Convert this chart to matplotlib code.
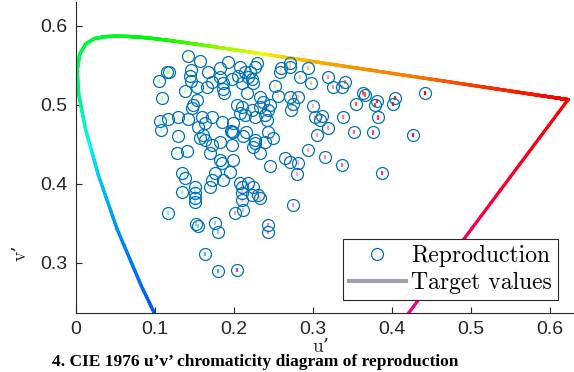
import numpy as np
import matplotlib
matplotlib.use("Agg")
import matplotlib.pyplot as plt
from matplotlib.collections import LineCollection
from matplotlib.colors import hsv_to_rgb
from matplotlib.lines import Line2D

# CIE 1931 2-degree spectral locus (x, y chromaticity)
locus_wl = [380, 390, 400, 410, 420, 430, 440, 450, 460, 465, 470, 475, 480, 485,
            490, 495, 500, 505, 510, 515, 520, 525, 530, 535, 540, 545, 550, 555,
            560, 565, 570, 575, 580, 585, 590, 595, 600, 605, 610, 615, 620, 625,
            630, 635, 640, 645, 650, 655, 660, 665, 670, 675, 680, 690, 700]
locus_x = [0.1741, 0.1738, 0.1733, 0.1726, 0.1714, 0.1689, 0.1644, 0.1566, 0.1440, 0.1355,
           0.1241, 0.1096, 0.0913, 0.0687, 0.0454, 0.0235, 0.0082, 0.0039, 0.0139, 0.0389,
           0.0743, 0.1142, 0.1547, 0.1929, 0.2296, 0.2658, 0.3016, 0.3373, 0.3731, 0.4087,
           0.4441, 0.4788, 0.5125, 0.5448, 0.5752, 0.6029, 0.6270, 0.6482, 0.6658, 0.6801,
           0.6915, 0.7006, 0.7079, 0.7140, 0.7190, 0.7230, 0.7260, 0.7283, 0.7300, 0.7311,
           0.7320, 0.7327, 0.7334, 0.7344, 0.7347]
locus_y = [0.0050, 0.0049, 0.0048, 0.0048, 0.0051, 0.0069, 0.0109, 0.0177, 0.0297, 0.0399,
           0.0578, 0.0868, 0.1327, 0.2007, 0.2950, 0.4127, 0.5384, 0.6548, 0.7502, 0.8120,
           0.8338, 0.8262, 0.8059, 0.7816, 0.7543, 0.7243, 0.6923, 0.6589, 0.6245, 0.5896,
           0.5547, 0.5202, 0.4866, 0.4544, 0.4242, 0.3965, 0.3725, 0.3514, 0.3340, 0.3197,
           0.3083, 0.2993, 0.2920, 0.2859, 0.2809, 0.2770, 0.2740, 0.2717, 0.2700, 0.2689,
           0.2680, 0.2673, 0.2666, 0.2656, 0.2653]

# Reproduction results (u', v')
rep_u = [0.142, 0.157, 0.115, 0.118, 0.105, 0.109, 0.138, 0.146, 0.144, 0.146,
         0.167, 0.182, 0.193, 0.208, 0.214, 0.229, 0.227, 0.221, 0.153, 0.166,
         0.172, 0.182, 0.186, 0.186, 0.188, 0.198, 0.205, 0.210, 0.153, 0.148,
         0.147, 0.204, 0.210, 0.208, 0.214, 0.160, 0.172, 0.185, 0.129, 0.117,
         0.106, 0.142, 0.199, 0.108, 0.217, 0.218, 0.223, 0.224, 0.260, 0.259,
         0.271, 0.271, 0.294, 0.284, 0.298, 0.319, 0.326, 0.337, 0.341, 0.252,
         0.256, 0.233, 0.237, 0.246, 0.243, 0.233, 0.223, 0.227, 0.239, 0.242,
         0.271, 0.281, 0.275, 0.272, 0.300, 0.312, 0.303, 0.338, 0.364, 0.366,
         0.355, 0.381, 0.379, 0.404, 0.402, 0.383, 0.442, 0.129, 0.128, 0.141,
         0.155, 0.161, 0.163, 0.157, 0.172, 0.182, 0.196, 0.198, 0.199, 0.198,
         0.212, 0.170, 0.182, 0.185, 0.199, 0.176, 0.195, 0.172, 0.186, 0.170,
         0.134, 0.138, 0.151, 0.134, 0.151, 0.151, 0.208, 0.210, 0.210, 0.163,
         0.215, 0.227, 0.224, 0.227, 0.233, 0.240, 0.243, 0.250, 0.305, 0.319,
         0.309, 0.294, 0.316, 0.337, 0.265, 0.271, 0.281, 0.246, 0.280, 0.218,
         0.224, 0.223, 0.231, 0.233, 0.275, 0.352, 0.376, 0.427, 0.388, 0.117,
         0.152, 0.154, 0.151, 0.176, 0.180, 0.163, 0.180, 0.204, 0.201, 0.212,
         0.210, 0.243, 0.243]
rep_v = [0.562, 0.556, 0.541, 0.542, 0.530, 0.508, 0.518, 0.544, 0.537, 0.530,
         0.542, 0.547, 0.554, 0.548, 0.541, 0.553, 0.548, 0.542, 0.523, 0.522,
         0.529, 0.535, 0.528, 0.520, 0.515, 0.532, 0.536, 0.528, 0.506, 0.500,
         0.496, 0.500, 0.497, 0.490, 0.487, 0.485, 0.484, 0.478, 0.485, 0.482,
         0.479, 0.482, 0.477, 0.468, 0.515, 0.535, 0.532, 0.528, 0.547, 0.541,
         0.553, 0.548, 0.547, 0.535, 0.528, 0.535, 0.522, 0.522, 0.529, 0.524,
         0.511, 0.510, 0.504, 0.500, 0.494, 0.497, 0.494, 0.485, 0.487, 0.481,
         0.510, 0.510, 0.501, 0.494, 0.499, 0.486, 0.484, 0.485, 0.515, 0.513,
         0.501, 0.505, 0.500, 0.509, 0.501, 0.484, 0.515, 0.460, 0.439, 0.441,
         0.472, 0.462, 0.456, 0.458, 0.449, 0.453, 0.467, 0.466, 0.465, 0.449,
         0.460, 0.439, 0.430, 0.427, 0.430, 0.414, 0.415, 0.405, 0.405, 0.396,
         0.414, 0.408, 0.396, 0.390, 0.389, 0.382, 0.401, 0.396, 0.389, 0.477,
         0.466, 0.456, 0.447, 0.452, 0.439, 0.453, 0.465, 0.458, 0.462, 0.471,
         0.481, 0.443, 0.434, 0.424, 0.433, 0.428, 0.427, 0.423, 0.413, 0.401,
         0.396, 0.386, 0.386, 0.382, 0.373, 0.466, 0.465, 0.462, 0.414, 0.363,
         0.349, 0.347, 0.377, 0.351, 0.339, 0.311, 0.290, 0.291, 0.363, 0.367,
         0.380, 0.348, 0.339]

white_u, white_v = 0.1978, 0.4683
xticks = [0, 0.1, 0.2, 0.3, 0.4, 0.5, 0.6]
yticks = [0.3, 0.4, 0.5, 0.6]
labels = ["Reproduction", "Target values"]
caption = "4. CIE 1976 u\u2019v\u2019 chromaticity diagram of reproduction"

SERIF = ["cmr10", "DejaVu Serif"]

# ---------------------------------------------------------------
def xy_to_uv(x, y):
    x = np.asarray(x, float)
    y = np.asarray(y, float)
    d = -2 * x + 12 * y + 3
    return 4 * x / d, 9 * y / d

anchor_ang = [-90, -40, -10, 5, 16, 60, 100, 130, 165, 190, 220, 250, 270]
anchor_hue = [-60, -30, -10, 0, 30, 55, 85, 120, 150, 185, 205, 220, 230]

def hue_of(u, v):
    ang = np.degrees(np.arctan2(np.asarray(v) - white_v, np.asarray(u) - white_u))
    ang = np.where(ang < -90, ang + 360, ang)
    return (np.interp(ang, anchor_ang, anchor_hue) % 360) / 360.0

lu, lv = xy_to_uv(locus_x, locus_y)
lu = np.append(lu, lu[0])
lv = np.append(lv, lv[0])

# Split each locus segment for a smooth colour gradient
segs, cols = [], []
nsub = 30
for i in range(len(lu) - 1):
    t = np.linspace(0, 1, nsub + 1)
    su = lu[i] + (lu[i + 1] - lu[i]) * t
    sv = lv[i] + (lv[i + 1] - lv[i]) * t
    for k in range(nsub):
        segs.append([(su[k], sv[k]), (su[k + 1], sv[k + 1])])
        mu, mv = 0.5 * (su[k] + su[k + 1]), 0.5 * (sv[k] + sv[k + 1])
        h = hue_of(mu, mv)
        cols.append(hsv_to_rgb([float(h), 1.0, 0.97]))

fig = plt.figure(figsize=(5.74, 3.72), dpi=100)
ax = fig.add_axes([76 / 574, 59 / 372, 498 / 574, 311 / 372])

lc = LineCollection(segs, colors=cols, linewidths=2.4, capstyle="round", joinstyle="round")
ax.add_collection(lc)

# target values: small colored dashes
ru = np.array(rep_u)
rv = np.array(rep_v)
dist = np.hypot(ru - white_u, rv - white_v)
th = (hue_of(ru, rv) - 20 / 360.0) % 1.0
sat = np.clip(dist / 0.22, 0.12, 1.0) ** 1.3
tcols = hsv_to_rgb(np.stack([th, sat, np.ones_like(th)], axis=1))
ax.scatter(ru, rv, s=9, marker="|", c=tcols, linewidths=1.6, zorder=3)

ax.plot(rep_u, rep_v, "o", mfc="none", mec="#0072BD", ms=8.6, mew=0.9, zorder=4)

ax.set_xlim(0, 0.631)
ax.set_ylim(0.2367, 0.630)
ax.set_xticks(xticks)
ax.set_xticklabels(["0", "0.1", "0.2", "0.3", "0.4", "0.5", "0.6"])
ax.set_yticks(yticks)
ax.set_yticklabels(["0.3", "0.4", "0.5", "0.6"])
for s in ["top", "right"]:
    ax.spines[s].set_visible(False)
for s in ["left", "bottom"]:
    ax.spines[s].set_color("#262626")
    ax.spines[s].set_linewidth(0.8)
ax.tick_params(direction="in", length=4.5, width=0.8, colors="#262626",
               labelsize=14, pad=6)
for lab in ax.get_xticklabels() + ax.get_yticklabels():
    lab.set_fontfamily("Liberation Sans")

ax.text(0.492, -0.108, "u\u2019", transform=ax.transAxes, ha="center", va="center",
        fontsize=14, family=SERIF, color="#262626")
ax.text(-0.112, 0.193, "v\u2019", transform=ax.transAxes, ha="center", va="center",
        rotation=90, fontsize=14, family=SERIF, color="#262626")

handles = [Line2D([], [], ls="none", marker="o", mfc="none", mec="#0072BD", ms=8.6, mew=0.9),
           Line2D([], [], color="#a0a0a8", lw=3)]
leg = ax.legend(handles, labels, loc="lower right", bbox_to_anchor=(0.968, 0.042),
                bbox_transform=ax.transAxes, prop={"family": SERIF, "size": 17},
                frameon=True, fancybox=False, framealpha=1, edgecolor="#262626",
                borderpad=0.25, handlelength=2.4, handletextpad=0.25, labelspacing=0.2,
                borderaxespad=0)
leg.get_frame().set_linewidth(0.8)

fig.text(52 / 574, 1 - 366.5 / 372, caption, ha="left", va="baseline", fontsize=12.5,
         family="Liberation Serif", fontweight="bold", color="black")

fig.savefig("out.png", dpi=100)
